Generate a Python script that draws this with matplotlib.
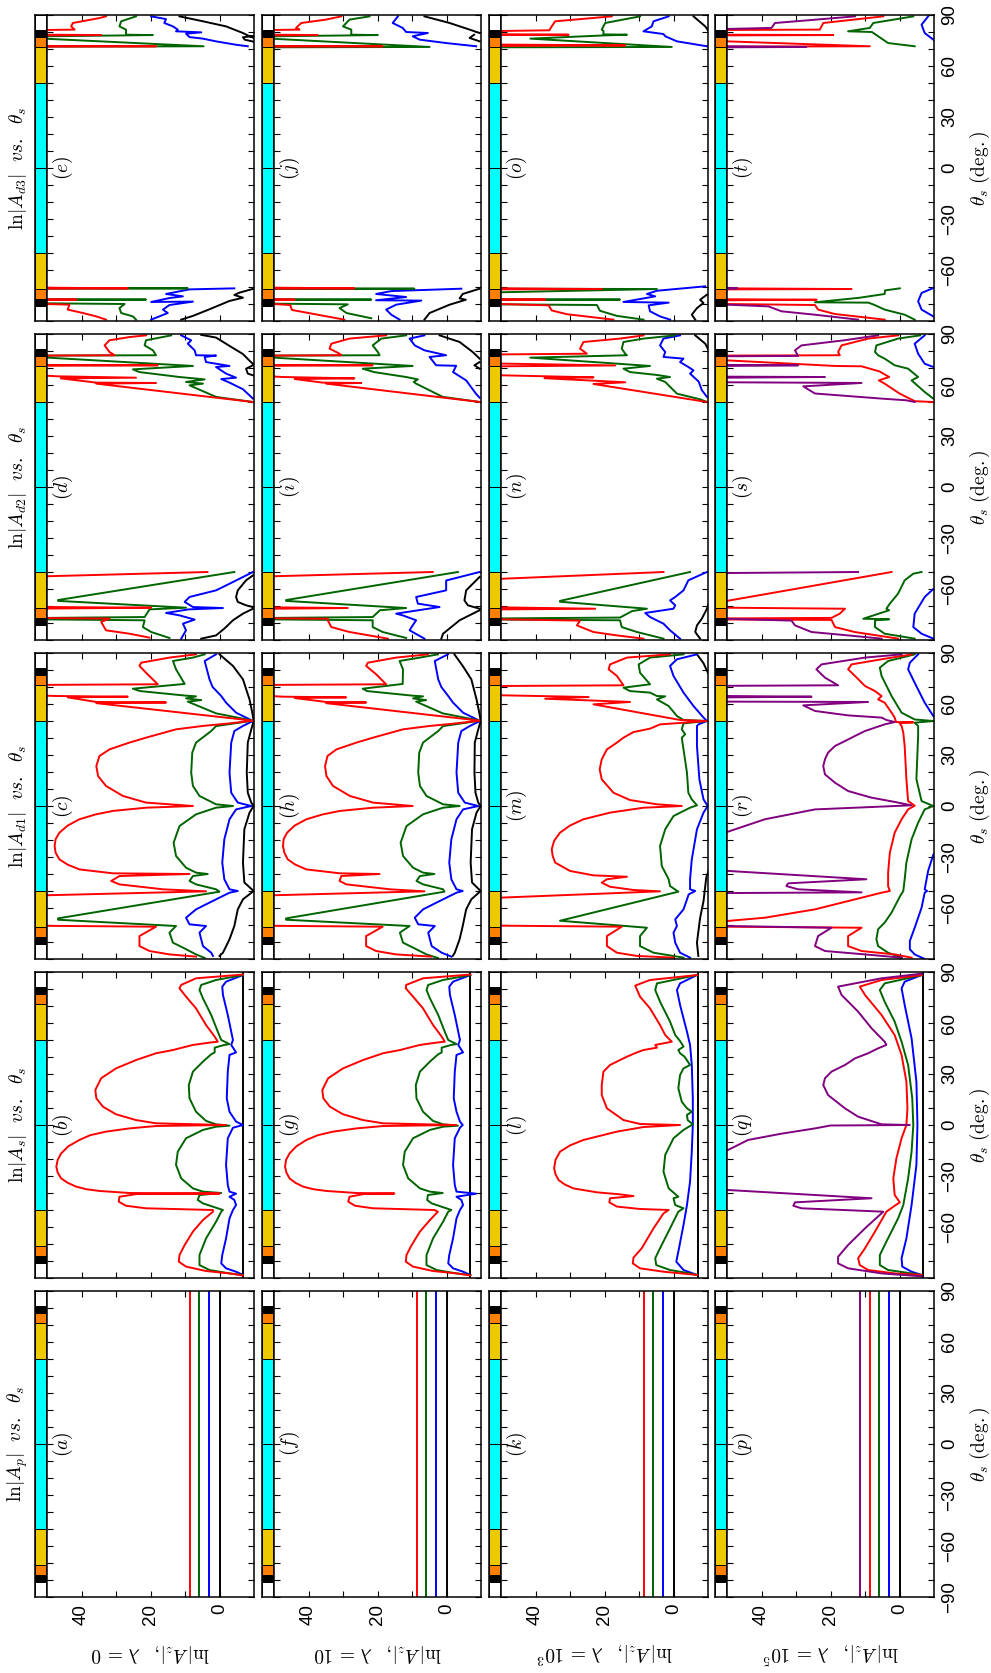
import numpy as np
import matplotlib.pyplot as plt

plt.rcParams['font.family'] = ['Liberation Sans', 'DejaVu Sans']
plt.rcParams['mathtext.fontset'] = 'cm'

RED, GREEN, BLUE, BLACK, PURPLE = '#ff0000', '#006400', '#0000ff', '#000000', '#800080'
G = (np.nan, np.nan)  # break in a curve

# each curve: list of (theta_s in deg, ln|A|); values > 50 run off the top of the panel

# ---- ln|A_p| : flat levels
ap_levels = {BLACK: 0.0, BLUE: 2.9, GREEN: 5.8, RED: 8.5, PURPLE: 11.4}

# ---- ln|A_s|
b_red = [(88.5,-6.8),(86.3,6.8),(82.4,11.1),(80.4,11.6),(75.5,9.7),(68.6,6.8),(58.8,3.9),(52,1.4),(49,0.5),(48.6,2.4),
         (47.1,7.7),(44.1,13.5),(42.2,18.4),(38.2,24.2),(33.3,30),(27.5,34.3),(20.6,36),(15.7,35.7),(10.8,33.8),(6.3,30),
         (2.9,24.2),(1,18.4),(0,-1.9),(-0.6,18.4),(-2,26.1),(-3.9,32.9),(-6,37.5),(-8.8,40.6),(-12.5,43.8),(-16.7,45.9),
         (-20.5,46.9),(-24.5,47.3),(-28,46.9),(-31.4,45.9),(-34,44),(-36.3,41.5),(-37.8,38.5),(-38.8,34.8),(-40,26.1),
         (-40.3,0),(-40.6,24),(-42.2,29),(-45.1,29.2),(-47.5,27.1),(-49,21.3),(-50,1.9),
         (-51,1.9),(-55.9,4.8),(-62.7,7.7),(-70.6,10.1),(-76.5,11.6),(-80.4,11.8),(-83.3,9.7),(-85.9,3.9),(-87.3,-2.9),(-88.5,-6.8)]
b_green = [(88.2,-6.8),(85.3,1),(82.4,5.3),(79.4,5.8),(74.5,4.8),(64.7,2.4),(54.9,0.5),(50,-0.5),(47.6,-2.9),(47.1,-1.4),
           (45.5,1.4),(42.7,1.4),(41.6,2.4),(37.3,4.8),(31.4,7.7),(23.5,8.9),(15.7,8.7),(7.8,6.8),(2.4,3.9),(0.4,1),
           (-0.4,-2.9),(-1,1),(-2.9,4.8),(-7.8,9.7),(-15.7,12.1),(-23.5,12.6),(-31.4,11.1),(-37.3,7.7),(-39.2,4.8),(-40,-0.5),
           (-41.2,5.8),(-44.1,6.3),(-46.1,4.8),(-50,-1),(-51,-0.5),(-56.9,1),(-66.7,3.9),(-76.5,5.8),(-82.4,5.8),(-85.3,2.9),
           (-87.3,-2.9),(-88.2,-6.8)]
b_blue = [(88.2,-6.8),(84.3,-1.9),(81.4,-0.8),(76.5,-1),(64.7,-2.4),(54.9,-3.4),(50,-3.9),(47.1,-3.4),(42.7,-4.8),(41.2,-2.9),
          (31.4,-2.4),(15.7,-2.1),(7.8,-2.9),(2,-4.8),(0,-6.8),(-1.6,-3.9),(-7.8,-2.4),(-23.5,-1.9),(-35.3,-2.4),(-39.2,-2.9),
          (-40.4,-4.8),(-42.2,-2.9),(-44.1,-4.3),(-47.1,-4.8),(-50,-3.9),(-54.9,-2.9),(-66.7,-1.9),(-76.5,-0.8),(-81.4,-0.5),
          (-84.3,-1.9),(-86.3,-4.8),(-88.2,-6.8)]
b_black = [(90,-6.9),(-90,-6.9)]

g_red = [(88.5,-6.9),(86.3,6.8),(82.4,11.7),(80.4,11.8),(75.5,9.7),(68.6,6.8),(58.8,3.9),(52,1.4),(49,0.5),(48.6,2.4),
         (47.1,7.7),(44.1,13.5),(42.2,18.4),(38.2,24.2),(33.3,30),(27.5,34.3),(20.6,36),(15.7,35.7),(10.8,33.8),(6.3,30),
         (2.9,24.2),(1,18.4),(0,-2.8),(-0.6,18.4),(-2,26.1),(-3.9,32.9),(-6,37.3),(-8.8,40.6),(-12.5,43.5),(-16.7,45.5),
         (-20.5,46.5),(-24.5,46.8),(-28,46.4),(-31.4,45.5),(-34,43.8),(-36.3,41.5),(-37.8,38.5),(-38.8,34.8),(-40,26.1),
         (-40.3,15.1),(-40.6,24),(-42.2,28.1),(-45.1,28.5),(-47.5,26.5),(-49,21.3),
         (-50,3.5),(-51,2.5),(-55.9,4.8),(-62.7,7.7),(-70.6,10.1),(-76.5,11.6),(-80.4,11.8),(-83.3,9.7),(-85.9,3.9),
         (-87.3,-2.9),(-88.5,-6.9)]
g_green = [(88.2,-6.9),(85.3,1),(82.4,5.3),(79.4,5.8),(74.5,4.8),(64.7,2.4),(54.9,0.5),(50,-0.5),(47.6,-2.9),(47.1,-1.4),
           (45.5,1.4),(42.7,1.4),(41.6,2.4),(37.3,4.8),(31.4,7.7),(23.5,8.9),(15.7,8.7),(7.8,6.8),(2.4,3.9),(0.4,1),
           (-0.4,-3.3),(-1,1),(-2.9,4.8),(-7.8,9.7),(-15.7,12.1),(-23.5,12.6),(-31.4,11.1),(-37.3,7.7),(-39.2,4.8),(-40,1.1),
           (-41.2,5.4),(-44.1,5.6),(-46.1,4.3),(-50,-1.4),(-51,-0.5),(-56.9,1),(-66.7,3.9),(-76.5,5.8),(-82.4,5.8),(-85.3,2.9),
           (-87.3,-2.9),(-88.2,-6.9)]
g_blue = [(88.2,-6.9),(84.3,-1.9),(81.4,-0.8),(76.5,-1),(64.7,-2.4),(54.9,-3.4),(50,-3.9),(47.1,-3.4),(42.7,-4.8),(41.2,-2.9),
          (31.4,-2.4),(15.7,-2.1),(7.8,-2.9),(2,-3.9),(0,-4.7),(-1.6,-3.9),(-7.8,-2.4),(-23.5,-1.9),(-35.3,-2.4),(-39.2,-2.9),
          (-40.4,-8.6),(-42.2,-2.9),(-44.1,-4.3),(-47.1,-4.8),(-50,-3.9),(-54.9,-2.9),(-66.7,-1.9),(-76.5,-0.8),(-81.4,-0.5),
          (-84.3,-1.9),(-86.3,-4.8),(-88.2,-6.9)]
g_black = [(90,-6.9),(-90,-6.9)]

l_red = [(88.2,-6.8),(85.3,6.8),(82,11.1),(75.5,9.7),(68.6,6.8),(58.8,3.9),(52.9,2.4),(49,0.5),(47.1,5.3),(45.5,4.8),
         (44.1,8.7),(42.7,10.6),(40.2,13.5),(37.3,16.4),(35.3,18.4),(31.4,20.3),(23.5,20.8),(17.6,20.8),(9.8,19.3),(2.9,14.5),
         (0.6,9.7),(0,-1.9),(-1.2,8.7),(-3.9,16.4),(-8.8,26.1),(-12,30),(-15.7,32.9),(-20.5,34.2),(-25.5,34.6),(-29,34.2),
         (-32.4,33.3),(-35,31.5),(-37.3,29),(-39.6,22.2),
         (-40.8,15.5),(-41.8,11.6),(-43.1,18.4),(-45.5,18.6),(-48,16.4),(-49.4,9.7),(-50,1.4),(-52,2.9),(-60.8,5.8),
         (-72.5,9.2),(-78,11.6),(-81.4,11.8),(-84.3,9.7),(-86.3,2.9),(-88.2,-6.8)]
l_green = [(88.2,-6.8),(83.3,4.8),(79.4,5.3),(72.5,3.9),(60.8,1),(52.9,-0.5),(49.4,-1.9),(46.1,-2.9),(44.1,-1.4),(42.2,-1.9),
           (40.2,-3.2),(35.3,-4.8),(33.3,-2.9),(29.4,-1.9),(21.6,-1.4),(13.7,-2.4),(9.8,-3.9),(7.8,-5.3),(5.9,-3.9),(2.9,-4.1),
           (0.4,-5.6),(-2.9,-2.9),(-7.8,0),(-17.6,2.4),(-27.5,2.9),(-37.3,1.4),(-42.2,-1.4),(-43.1,0),(-47.1,-0.5),(-49,-2.9),
           (-51,-1.4),(-60.8,1),(-72.5,3.9),(-78.4,5.3),(-82.4,5),(-85.3,1),(-87.3,-4.8),(-88.2,-6.8)]
l_blue = [(88.2,-6.8),(83.3,-1.9),(79.4,-1),(70.6,-1.9),(54.9,-3.9),(47.1,-4.8),(35.3,-5.3),(15.7,-5.6),(0,-5.6),(-15.7,-5.3),
          (-33.3,-4.8),(-47.1,-3.9),(-58.8,-2.9),(-74.5,-1.4),(-80.4,-0.8),(-85.3,-2.9),(-88.2,-6.8)]
l_black = [(90,-7.2),(-90,-7.2)]

q_purple = [(89,-6.4),(86.3,5.2),(81.4,17.8),(76.5,16.8),(66.7,12),(56.9,8.1),(49,4.3),(47.1,3.8),(45.1,6.2),(42.2,9.1),
            (39.2,12.9),(35.3,15.8),(31.4,19.7),(27.5,21.6),(23.5,22.1),(17.6,20.7),(9.8,15.8),(4.9,12),(0.4,5.2),(0,-3),
            (-0.3,20),(-2,24.5),(-5.1,34.2),(-8.8,43.9),(-14.7,49.7),(-16,55),(-37.5,55),(-38.2,50),(-43.1,8.1),(-45.5,30.3),
            (-47.5,30.8),(-49,28.4),(-50.6,9.1),(-51,4.7),(-60.8,10),(-70.6,14.9),(-77.5,17.8),(-81.4,17.8),(-84.3,14.9),
            (-87.3,5.2),(-89,-6.4)]
q_red = [(88.2,-6.4),(85.3,5.2),(81.4,11.5),(76.5,10),(64.7,5.2),(52.9,1.4),(41.2,-0.6),(25.5,-2),(9.8,-2.3),(0,-2),
         (-7.8,-0.6),(-19.6,0.9),(-31.4,1.8),(-41.2,1.4),(-45.5,-0.1),(-47.5,1.4),(-51,3.8),(-62.7,7.1),(-72.5,10),
         (-78.4,12),(-82.4,11.5),(-85.3,9.1),(-87.3,1.4),(-88.2,-6.4)]
q_green = [(88.2,-6.4),(83.3,4.3),(79.4,5.7),(72.5,4.3),(60.8,1.4),(49,-0.6),(35.3,-2.5),(15.7,-3.7),(0,-4),(-15.7,-3.5),
           (-31.4,-2.5),(-47.1,-1.1),(-54.9,0.4),(-68.6,3.8),(-76.5,5.7),(-82.4,5.7),(-85.3,3.3),(-87.3,-3.5),(-88.2,-6.4)]
q_blue = [(88.2,-6.4),(84.3,-1.5),(80.4,-0.6),(70.6,-1.5),(51,-3.5),(25.5,-4.9),(0,-5.2),(-23.5,-4.9),(-47.1,-3.5),
          (-66.7,-2),(-78.4,-0.6),(-83.3,-0.8),(-86.3,-3.5),(-88.2,-6.4)]
q_black = [(90,-6.9),(-90,-6.9)]

# ---- ln|A_d1|
c_red = [(89.2,6.8),(87.3,14.5),(84.3,22.7),(82.4,23.2),(78.4,21.3),(71.6,17.9),(71.2,55),(65.2,55),(64.7,47.3),(64.3,26.6),
         (63.9,44),(61.2,35.7),(60.9,15.5),(60.5,35.7),(50.2,-9.7),(48.6,-2.9),(47.1,4.8),(45.1,12.6),(40.2,21.3),(37.3,26.1),
         (33.3,31.9),(29.4,34.8),(23.5,35.7),(17.6,35.2),(11.8,32.9),(5.9,28),(2,21.3),(0,7.7),(-1,21.3),(-2.9,30.9),
         (-5,36),(-7.8,40.6),(-11.5,44),(-15.7,46.4),(-19.5,47.5),(-23.5,47.8),(-27.5,47.5),(-31.4,46.4),(-34.5,44),
         (-37.3,40.6),(-39.6,30.9),(-40,8.7),(-41.2,29),(-44.1,31.4),
         (-46.1,29),(-49,16.4),(-50.2,3.9),(-52.5,50),(-53,55),(-70.4,55),(-71,18.4),(-76.5,23.2),(-82.4,23.2),(-85.3,20.3),
         (-87.3,14.5),(-88.6,6.8)]
c_green = [(89.2,4.3),(87.3,7.7),(85.3,13.5),(80.4,12.6),(71.8,10.1),(69,25.1),(67.6,23),(64.9,9.7),(64.5,6.8),(63.3,9.7),
           (62.3,5.3),(61.4,9.2),(54.5,1),(50.2,-9.7),(47,1),(44.1,2.4),(37.3,6.8),(31.4,7.9),(19.6,8.2),(11.8,7.7),(5.9,5.8),
           (1,1),(0,-3.9),(-1,1),(-4.9,6.8),(-11.8,11.6),(-21.6,13.3),(-29.4,12.6),(-36.3,9.7),(-39.2,6.8),(-40,3.4),
           (-41.2,7.7),(-44.1,8.7),(-46.1,6.8),(-49,1),(-50.4,0),(-66.1,46.8),(-66.9,46.8),(-70.6,12.6),(-74.5,14.5),
           (-80.4,13.5),(-83.3,10.6),(-87.3,6.8),(-89.4,4.3)]
c_blue = [(89.2,1),(85.3,4.3),(74.5,2.9),(70,2),(64.7,-0.5),(60.8,-1.9),(54.9,-4.8),(52,-7.7),(50,-9.7),(47.1,-6.8),
          (44.1,-4.3),(37.3,-3.4),(19.6,-2.9),(7.8,-3.4),(2,-5.3),(0,-9.2),(-2,-4.8),(-7.8,-2.9),(-19.6,-1.4),(-33.3,-0.8),
          (-43.1,-1.4),(-49,-2.9),(-50,-5.3),(-51,-2.9),(-54.9,1),(-60.8,6.8),(-65.7,9.7),(-69.6,8.7),(-70.6,3.9),(-74.5,5.8),
          (-82.4,4.8),(-86.3,2.4),(-88.2,1.9)]
c_black = [(89.2,0),(82.4,-3.9),(74.5,-6.8),(62.7,-8.7),(54.9,-9.5),(50,-9.9),(45,-9.2),(37.3,-8.2),(19.6,-7.9),(7.8,-8.2),
           (2,-9.2),(0,-9.9),(-3.9,-8.7),(-13.7,-7.2),(-33.3,-6.8),(-45,-7.2),(-50,-9.9),(-54.9,-6.8),(-60.8,-5.3),
           (-70.6,-4.3),(-78.4,-2.9),(-86.3,-1),(-88.2,0)]

h_red = [(89.2,5.4),(87.3,14.6),(84.3,22.8),(82.4,23.3),(77.5,20.4),(71.6,17.5),(71.2,55),(65.2,55),(64.3,47.4),(63.9,29.1),
         (63.5,44),(61.2,34.9),(60.9,23.3),(60.5,34.9),(50.2,-9.7),(48.6,-2.8),(47.1,4.8),(45.1,12.6),(40.2,21.3),(37.3,26.1),
         (33.3,31.9),(29.4,34.5),(23.5,35.2),(17.6,34.8),(11.8,32.9),(5.9,28),(2,21.3),(0,9.8),(-1,21.3),(-2.9,30.9),
         (-5,36),(-7.8,40.6),(-11.5,44),(-15.7,46.2),(-19.5,47.2),(-23.5,47.4),(-27.5,47),(-31.4,46),(-34.5,43.8),
         (-37.3,40.6),(-39.6,30.9),(-40,19.4),(-41.2,30.5),(-44.1,31),
         (-46.1,29),(-49,16.4),(-50.2,6.4),(-52.5,50),(-53,55),(-70.4,55),(-71,18.5),(-76.5,23.3),(-82.4,23.3),(-85.3,20.4),
         (-87.3,14.6),(-88.6,4.4)]
h_green = [(89.2,2.5),(87.3,7.7),(85.3,13.6),(80.4,12.6),(71.8,12.7),(69,24.3),(67.6,23),(64.9,9.8),(64.5,6.8),(63.3,9.7),
           (62.3,5.9),(61.4,8.8),(54.5,1.1),(50.2,-9.7),(47,1),(44.1,2.4),(37.3,6.8),(31.4,7.9),(19.6,8.2),(11.8,7.7),(5.9,5.8),
           (1,1),(0,-3.8),(-1,1),(-4.9,6.8),(-11.8,11.6),(-21.6,13.3),(-29.4,12.6),(-36.3,9.7),(-39.2,6.8),(-40,3.5),
           (-41.2,7.7),(-44.1,8.7),(-46.1,6.8),(-49,1),(-50.4,0.6),(-66.1,46.5),(-66.9,46.5),(-70.6,10.7),(-74.5,13.5),
           (-80.4,12.6),(-83.3,9.7),(-87.3,5.8),(-89.4,2.5)]
h_blue = [(89.2,-0.4),(85.3,3.4),(74.5,2.4),(70,1.5),(64.7,-0.5),(60.8,-1.9),(54.9,-4.8),(52,-7.7),(50,-9.7),(47.1,-6.8),
          (44.1,-4.3),(37.3,-3.4),(19.6,-2.9),(7.8,-3.4),(2,-5.3),(0,-9.2),(-2,-4.8),(-7.8,-2.9),(-19.6,-1.4),(-33.3,-0.8),
          (-43.1,-1.4),(-49,-2.9),(-50,-4.7),(-51,-2.9),(-54.9,1),(-60.8,6.8),(-65.7,9.2),(-69.6,8.2),(-70.6,3.4),(-74.5,5.3),
          (-82.4,4.3),(-86.3,1.4),(-88.6,-1.4)]
h_black = [(89.2,-2.3),(82.4,-4.7),(74.5,-7.2),(62.7,-8.7),(54.9,-9.5),(50,-9.9),(45,-9.2),(37.3,-8.2),(19.6,-8.1),
           (7.8,-8.4),(2,-9.2),(0,-9.9),(-3.9,-8.7),(-13.7,-7.4),(-33.3,-7),(-45,-7.4),(-50,-9.9),(-54.9,-7.2),(-60.8,-5.7),
           (-70.6,-4.7),(-78.4,-3.8),(-86.3,-2.4),(-88.2,-1.8)]

m_red = [(89.2,1),(87.3,13.5),(83.3,18.4),(80.4,18.8),(76.5,16.4),(71,14.5),(70.6,50),(70.3,55),(65.5,55),(65.1,49.3),
         (64.1,24.6),(63.1,37.2),(61.2,12.6),(59.8,23.2),(50.6,-1.9),(50,-9.7),(48,3.9),(45.5,6.8),(43.5,11.6),(40.2,14.5),
         (37.3,16.4),(33.3,19.3),(27.5,20.8),(21.6,21.4),(15.7,20.8),(7.8,17.4),(3.5,12.6),(1,4.8),(0,-2.4),(-1,8.7),
         (-3.9,18.4),(-7.8,26.1),(-11.5,30),(-15.7,32.9),(-20.5,34.6),(-25.5,35.3),(-29.5,35),(-33.3,34.3),(-38.2,30),
         (-40.8,23.2),(-41.6,13.5),(-43.1,19.3),
         (-45.1,20.8),(-47.5,18.4),(-49.4,11.6),(-50.2,3.9),(-53.9,50),(-54.3,55),(-70.3,55),(-71,15),(-76.5,19.3),
         (-82.4,19.3),(-86.3,16.4),(-88.2,10.6),(-89.2,0)]
m_green = [(89.2,-2.9),(87.3,6.8),(83.3,10.1),(78.4,9.7),(71.6,6.8),(69.6,14.5),(67.6,12.6),(66.7,6.8),(64.7,4.8),(64.5,2.4),
           (62.7,4.8),(58.8,1.4),(52.9,-1),(50.6,-2.9),(50,-9.7),(48.6,-2.9),(45.1,-2.4),(42.2,-3.4),(40.2,-2.4),(33.3,-2.9),
           (19.6,-3.9),(7.8,-4.3),(3.9,-5.3),(0.4,-6.8),(-1,-4.8),(-5.9,0),(-13.7,2.4),(-23.5,3.9),(-35.3,3.4),(-43.1,1.4),
           (-47.1,1),(-50.4,-1.4),(-67.5,32.9),(-71.6,7.7),(-76.5,9.7),(-82.4,9.7),(-86.3,5.8),(-89.2,-2.9)]
m_blue = [(89.2,-6.8),(86.3,-1),(82.4,1),(76.5,0),(66.7,-2.9),(58.8,-5.8),(52,-8.7),(50,-9.7),(48,-7.2),(47,-6.8),
          (35.3,-6.8),(15.7,-7.5),(3.9,-8.7),(0,-9.9),(-3.9,-8.7),(-13.7,-6.8),(-31.4,-5.3),(-43.1,-4.8),(-49,-4.8),
          (-50,-6.3),(-52,-4.4),(-60.8,-2.9),(-66.7,-0.5),(-70.6,-1),(-74.5,0),(-80.4,-0.5),(-86.3,-1.9),(-89.2,-4.8)]
m_black = [(89.2,-6.8),(84,-8.7),(76,-10.5), G, (-36,-10.5),(-42,-9.5),(-56,-8.7),(-66,-7.7),(-80.4,-6.8),(-88.2,-7.2)]

r_purple = [(89.2,-0.6),(87.3,10),(83.3,22.6),(80.4,24.1),(75.5,21.6),(71,17.8),(70.7,49.7),(70.3,55),(65,55),(64.7,49.7),
            (64.3,25.5),(63.9,49.7),(63.5,55),(62,55),(61.4,49.7),(61.2,9.1),(59.2,27.9),(55.9,24.5),(53.3,14.9),(52,5.2),
            (50.6,3.8),(49.4,1.4),(48,4.3),(46.1,7.1),(44.1,10),(41.2,12.9),(38.2,15.8),(35.3,18.7),(31.4,20.7),(27.5,21.6),
            (23.5,22.1),(18.6,21.6),(13.7,18.7),(8.8,14.9),(4.9,8.1),(2.4,1.4),(0.4,-3.5),(-2,24.5),(-7.8,39),(-15.1,49.7),
            (-16,55),(-37.5,55),(-38.2,49.7),(-43.1,9.6),(-45.5,32.3),(-47.1,32.8),(-49,29.4),(-50.8,11),(-51.2,49.7),
            (-51.6,55),(-70,55),(-70.6,49.7),(-71.6,19.7),(-76.5,23.6),(-82.4,24.5),(-85.3,21.6),(-87.3,10),(-89.2,-0.6)]
r_red = [(89.2,-3.5),(86.3,5.2),(83.3,13.9),(80.4,14.9),(76.5,12.9),(70.6,10),(67.6,7.1),(64.7,5.2),(62.7,6.2),(60.8,4.3),
         (54.9,2.3),(52,1.4),(49.4,1),(49.2,-4),(48.8,0),(47.1,-0.6),(43.1,-1.1),(35.3,-1.5),(15.7,-2),(2.9,-2.5),
         (0.2,-4.4),(-2,-2.5),(-7.8,-0.6),(-15.7,1.4),(-27.5,2.8),(-39.2,3.3),(-47.1,3.3),(-50,2.8),(-51,5.2),(-60.8,24.5),
         (-65.7,39),(-67.6,49.7),(-68,55),(-70.8,55),(-71,49.7),(-71.6,11),(-76.5,14.9),(-82.4,14.9),(-85.3,11),
         (-87.3,1.4),(-89.2,-3.5)]
r_green = [(89.2,-4.4),(85.3,3.3),(81.4,5.7),(76.5,5.2),(64.7,2.3),(54.9,-0.6),(50.9,-4.4),(50,-9.8),(49,-4.4),(47.1,-5.4),
           (41.2,-5.4),(15.7,-4.9),(2.9,-6.4),(0,-9.8),(-2,-7.3),(-9.8,-5.4),(-19.6,-3.5),(-33.3,-2),(-43.1,-1.5),(-50,-1.1),
           (-52.9,-0.2),(-62.7,2.3),(-68.6,4.3),(-72.5,6.2),(-78.4,6.7),(-82.4,6.2),(-86.3,3.3),(-89.2,-0.6)]
r_blue = [(89.2,-5.4),(84.3,-3),(80.4,-2.5),(72.5,-4.4),(60.8,-7.3),(52.9,-9.8),(51,-11), G, (-27,-11),(-28.6,-9.8),
          (-38.2,-8.3),(-49,-7.3),(-50,-8),(-51,-7.3),(-59.8,-6.4),(-71.6,-4.4),(-79.4,-3),(-84.3,-3),(-87.3,-4.4),(-90,-7.3)]

# ---- ln|A_d2|
d_red = [(89.2,21.3),(88.2,26.1),(86.3,31.9),(83.3,33.3),(79.4,31.9),(77.5,30.4),(77.3,50),(77,55),(72,55),(71.8,50),
         (71.6,17.9),(71.3,50),(71,55),(66,55),(65.1,46.9),(64.3,24.2),(63.9,46),(61.4,35.7),(61.2,18.4),(60.8,35.7),
         (50,-9.7), G, (-50,3.5),(-52.5,50),(-53,55),(-70.3,55),(-70.6,50),(-71,19.8),(-71.5,50),(-72,55),(-76.8,55),
         (-77.1,50),(-77.4,31.9),(-79.4,34.3),(-84.3,32.9),(-86.3,26.1),(-88.6,20.3)]
d_green = [(89.2,14),(86.3,21.3),(83.3,21.7),(80.4,19.3),(77.5,18.4),(77.3,50),(77,55),(76.5,55),(76.1,49.8),(71.2,7.7),
           (69.2,25.1),(67.6,23.2),(64.7,11.6),(63.3,4.3),(61.8,9.7),(60.8,4.8),(59.8,8.7),(53,1),(50,-9.7), G,
           (-50,-4.3),(-66.5,46.8),(-67,46.8),(-71,9.7),(-72,20.3),(-76.5,21.7),(-77,50),(-77.5,55),(-77.8,55),(-78.4,21.7),
           (-82.4,22.2),(-85.3,19.8),(-88.8,14.5)]
d_blue = [(89.2,11.1),(86.3,8.2),(84.3,9.2),(80.4,7.2),(77.5,6.8),(77.3,1),(76.5,4.3),(73.5,3.9),(71.2,-2.9),(70.6,1),
          (66.7,-1.9),(64.3,-4.8),(63.5,-0.5),(61.4,-2.9),(57.5,-6.8),(52,-9.7), G, (-50,-9.7),(-56.9,-2.9),(-60.8,1),
          (-64.7,8.7),(-67.6,10.1),(-70.6,7.7),(-71.2,-1),(-72,9),(-74.1,15.5),(-75.5,11.6),(-78,7.2),(-80.4,10.6),
          (-84.3,9.7),(-89.2,11.1)]
d_black = [(89.5,5.3),(87.9,1),(83,-2.9),(78.2,-6.8),(74.3,-8.7),(72.4,-9.7), G, (71.6,-9.7),(69.6,-7.7),(66.7,-8.2),
           (65.7,-9.7), G, (-52,-9.7),(-54.9,-7.7),(-60.8,-5.3),(-64.7,-4.8),(-67.6,-5.3),(-69.6,-7.7),(-70.6,-9.7), G,
           (-71.6,-9.7),(-74.5,-6.8),(-78.4,-3.9),(-83.3,-1.4),(-87.3,1),(-89.2,5.3)]

i_red = [(89.2,17.5),(87.3,28.1),(84.3,33.4),(81.4,33.9),(78.4,31),(77.5,30.5),(77.3,50),(77,55),(72,55),(71.8,50),
         (71.6,21.4),(71.3,50),(71,55),(65.5,55),(64.7,47.4),(63.9,26.7),(63.5,44),(61.4,35.9),(61.2,24.7),(60.8,34.9),
         (50,-9.7), G, (-50,4),(-52.5,50),(-53,55),(-70.3,55),(-70.8,50),(-71.2,28.6),(-71.6,50),(-72,55),(-76.8,55),
         (-77.2,50),(-77.5,34.4),(-78.4,34.4),(-82.4,33.4),(-85.3,28.1),(-89.2,17)]
i_green = [(89.2,11.7),(87.3,18.9),(83.3,21.4),(79.4,19.9),(77.5,19.4),(77.3,50),(77,55),(76.5,55),(76.1,50),(71.2,9.8),
           (69.6,24.3),(67.6,21),(64.7,11.7),(63.3,8.3),(61.8,9.5),(60.8,8.8),(53,1.1),(50,-9.7), G, (-50,-3.3),
           (-66.5,46.5),(-67,46.5),(-71.2,11.7),(-72.5,19.3),(-76.5,21.4),(-77,50),(-77.3,55),(-77.8,55),(-78.4,21.4),
           (-82.4,21.4),(-85.3,18.5),(-88.8,11.7)]
i_blue = [(89.2,6.4),(87.3,10.7),(83.3,9.2),(80.4,6.4),(77.5,0.1),(76.5,4.9),(71.6,3),(71.3,-2.8),(67.6,-1.9),(62.7,-5.7),
          (55,-8.5),(52.5,-9.6), G, (-50,-9.6),(-55,0.1),(-60.8,0.1),(-64.7,8.8),(-68.6,8.3),(-70.6,2),(-74.5,14.6),
          (-75.5,12.7),(-78.4,8.8),(-81.4,9.8),(-84.3,10.7),(-89.2,6.4)]
i_black = [(89.2,2),(85.3,-3.8),(79.4,-7.6),(75.5,-9.6), G, (73.5,-9.6),(71.6,-8.1),(69.6,-9.6), G, (-52.9,-9.6),
           (-60.8,-5.7),(-66.7,-5.2),(-69.6,-6.2),(-71.6,-9.6), G, (-72.5,-9.6),(-78.4,-3.8),(-86.3,1),(-89.2,1.5)]

n_red = [(89.2,8.7),(87.3,15.5),(85.3,26.1),(81.4,27.1),(78.4,25.1),(78,50),(77.5,55),(73,55),(72.6,50),(71.5,16.9),
         (71,50),(70.5,55),(66.5,55),(65.7,49.8),(64.5,23.2),(64,37.4),(61.6,14),(60.6,23.2),(50,-9.7), G, (-50,2.9),
         (-54,50),(-54.5,55),(-70.3,55),(-70.8,50),(-71.6,22.7),(-72,50),(-72.5,55),(-77.3,55),(-77.8,50),(-78.6,27.1),
         (-81.4,28),(-85.3,23.2),(-87.3,16.4),(-89.2,8.7)]
n_green = [(89.2,-0.5),(87.3,8.7),(85.3,14.5),(81.4,15),(78.4,14),(77.5,13.5),(76.1,41.5),(71.2,6.8),(69.6,14.5),(67.6,12.6),
           (65.9,4.8),(64.7,1),(63.7,4.8),(61.8,2.4),(54.9,-1),(51.6,-7.7),(50,-9.7), G, (-50,-4.8),(-67,32.9),(-67.5,32.9),
           (-71.6,7.7),(-73,12),(-76.8,15.5),(-77.3,50),(-77.6,55),(-77.9,55),(-78.4,15.5),(-82.4,15),(-85.3,10.6),(-89.2,2.9)]
n_blue = [(89.2,-1.9),(87.3,2.9),(83.3,3.9),(79.4,2.4),(76.5,2.9),(75.5,-2.9),(73.5,-1.9),(70.6,-4.3),(68.6,-5.8),
          (66.7,-4.8),(62,-7.3),(57,-8.2),(53,-9.7), G, (-50,-9.7),(-54.9,-4.3),(-60.8,-2.9),(-64.7,-0.5),(-66.7,1),
          (-69.6,-0.5),(-71.6,0),(-74.1,8.2),(-76.5,6.8),(-80.4,2.9),(-84.3,1),(-89.2,-1.9)]
n_black = [(89.2,-6.3),(84.3,-9.2),(80.4,-10.2), G, (-68.6,-10.2),(-71.6,-9.7),(-77.5,-8.2),(-81.4,-6.8),(-85.3,-6.3),
           (-89.2,-7.7)]

s_purple = [(89.2,6.2),(86.3,16),(83.3,28.4),(80.4,30.3),(77.1,29.4),(76.9,50),(76.5,55),(72,55),(71.8,50),(71.6,29.4),
            (71.2,50),(70.8,55),(65.5,55),(64.9,50),(64.7,21.6),(64.3,50),(64,55),(62,55),(61.6,50),(61.2,11),(59.2,27.9),
            (55,24.5),(52,5.2),(51,-2),(50,-4.4), G, (-50,12),(-50.6,50),(-51,55),(-77,55),(-77.5,50),(-78.6,31.3),
            (-81.4,30.3),(-85.3,25.5),(-87.3,14.9),(-89.2,5.2)]
s_red = [(89.2,0.4),(87.3,9.1),(83.3,16.8),(79.4,17.8),(77.5,17.3),(77.3,50),(77,55),(75,55),(74.5,50),(71.2,18.7),
         (71,11),(68,5.8),(64.7,3),(62.7,6),(60.8,4.3),(55,0),(50.5,-4.4),(50,-9.5), G, (-50,2.3),(-67,50),(-67.5,55),
         (-70.5,55),(-71,50),(-71.6,15.8),(-74.5,17.3),(-77,19.7),(-77.3,50),(-77.6,55),(-77.9,55),(-78.2,19.7),
         (-82.4,18.7),(-85.3,13),(-89.2,0.4)]
s_green = [(89.2,-6),(87.3,0.4),(83.3,6.7),(79.4,7.1),(77.5,6.2),(75.5,4.3),(71.6,1.4),(69.6,-2.5),(64.7,-5.4),(62.7,-3.5),
           (55.9,-7.3),(52,-9.8), G, (-50,-6.4),(-51,-4),(-54.9,-1.5),(-62.7,0.4),(-68.6,2.8),(-71.6,3.8),(-72.5,3),
           (-77.5,10.5),(-77.8,3),(-78.4,7.1),(-82.4,7.1),(-86.3,4.3),(-89.2,-4.4)]
s_blue = [(89.2,-7.3),(84.3,-4.4),(78.4,-5.4),(72.5,-7.3),(70.6,-9.8), G, (-60,-9.8),(-64.7,-7.3),(-74.5,-4.4),
          (-82.4,-4),(-86.3,-6.4),(-89.2,-9.8)]

# ---- ln|A_d3|
e_red = [(89.2,32.9),(88.2,34.8),(85.3,42.5),(83.3,43),(81.4,42),(81.2,50),(81,55),(78.7,55),(78.4,50),(78.2,34.3),
         (78,50),(77.8,55),(72,55),(71.8,50),(71.6,18.4),(71.4,50),(71.2,55),(-70.2,55),(-70.4,50),(-70.8,26.6),(-71,50),
         (-71.2,55),(-77,55),(-77.2,50),(-77.4,41.5),(-77.6,50),(-77.8,55),(-79.8,55),(-80,50),(-80.4,43.5),(-83.3,44),
         (-85.3,39.6),(-87.3,35.7),(-89.2,32.9)]
e_green = [(89.2,24.2),(86.3,28.5),(83.3,29),(81.4,27.1),(78.4,27.1),(78.2,19.3),(78,27),(77.5,50),(77.2,55),(76.3,55),
           (76,50),(71.6,4.6),(71.4,50),(71.2,55),(-70.4,55),(-70.6,50),(-70.8,9.2),(-71,50),(-71.2,55),(-77,55),(-77.2,50),
           (-77.4,21.3),(-77.6,50),(-77.8,55),(-79.2,55),(-79.6,50),(-80,27.5),(-82.4,29),(-85.3,28.5),(-87.3,25.1),
           (-89.2,24.2)]
e_blue = [(89.2,19.8),(87.6,15.5),(85.3,16),(83.3,13.5),(81.4,12.1),(80.4,12.6),(79.8,5.3),(79,9.7),(77,8.7),(76.1,4.8),
          (74.5,1),(72.5,-4.8),(71.6,-8.2), G, (-70.8,-4.3),(-71.4,8.7),(-74.1,15.5),(-75.5,10.6),(-76.5,14.5),
          (-78.8,19.8),(-78.6,7.7),(-80.6,14.5),(-83.3,16.4),(-85.3,15),(-89.2,19.8)]
e_black = [(89.2,11.6),(86.3,4.8),(83.3,-1.9),(79.4,-6.8),(77.5,-8.7),(76.5,-9.9), G, (77.7,-9.9),(76.9,-6.8),(75.5,-7.3),
           (74.3,-9.9), G, (-71,-9.9),(-73.3,-5.8),(-74.7,-4.3),(-76.3,-6.8),(-78.2,-2.9),(-83.1,2.9),(-87,7.7),(-89.2,11.1)]

j_red = [(89.2,30.5),(87.3,34.9),(85.3,42.1),(82.4,43.6),(81.4,42.6),(81.2,50),(81,55),(78.6,55),(78.4,50),(78.2,37.3),
         (78,50),(77.8,55),(72,55),(71.8,50),(71.6,18.5),(71.4,50),(71.2,55),(-70.2,55),(-70.4,50),(-70.8,26.7),(-71,50),
         (-71.2,55),(-77,55),(-77.2,50),(-77.4,44),(-77.6,50),(-77.8,55),(-79.8,55),(-80,50),(-80.6,45.3),(-83.5,44.8),
         (-86.5,36.8),(-89.2,29.6)]
j_green = [(89.2,22.3),(87.3,28.1),(83.3,30),(81.4,27.6),(78.4,27.6),(78.2,19.9),(78,27.6),(77.5,50),(77.2,55),(76.3,55),
           (76,50),(71.2,4.9),(71,50),(70.8,55),(-70.6,55),(-70.8,50),(-71,9.3),(-71.2,50),(-71.4,55),(-77,55),(-77.2,50),
           (-77.4,21.8),(-77.6,50),(-77.8,55),(-79.4,55),(-79.8,50),(-80.2,28.6),(-82.4,31),(-85.3,29),(-88.4,21.8)]
j_blue = [(89.2,14.1),(85.3,15.6),(82.4,12.7),(80,11.7),(79.4,5.4),(77.5,9.8),(75.5,7.8),(73.5,0.1),(71.6,-8.6), G,
          (-71,-4.3),(-72.4,16),(-74.1,20.4),(-75.9,11.7),(-77.8,20.4),(-78,7.3),(-80.4,14.6),(-83.3,17.5),(-86.3,16),
          (-89.2,13.6)]
j_black = [(89.2,6.4),(85.3,-0.9),(81.4,-6.7),(79.4,-9.6), G, (78.4,-8),(76.5,-6.7),(74.5,-9.6), G, (-71,-9.6),
           (-74.1,-4.7),(-76.7,-3.8),(-77.5,-5.6),(-80.4,-0.9),(-85.3,4.9),(-89.2,6.4)]

o_red = [(89.2,17.9),(86.3,34.3),(83.3,35.3),(81,36),(80.6,50),(80.2,55),(79,55),(78.7,50),(78.4,30.4),(78.2,50),(78,55),
         (72.8,55),(72.6,50),(72.1,14),(71.8,50),(71.5,55),(-70.6,55),(-70.8,50),(-71.2,20.8),(-71.4,50),(-71.6,55),
         (-77,55),(-77.2,50),(-77.4,37.2),(-77.6,50),(-77.8,55),(-79.6,55),(-80,50),(-80.8,36.2),(-83.8,35.3),(-86,30.9),
         (-89.2,17.4)]
o_green = [(89.2,9.7),(85.3,19.8),(81.4,20.8),(80.6,20.3),(78.6,20.3),(78.4,13.5),(78,20),(76.1,41.5),(71.2,0.5),(71,50),
           (70.8,55),(-70.8,55),(-71,50),(-71.2,4.8),(-73.1,50),(-73.5,55),(-76.8,55),(-77.2,50),(-77.4,15.5),(-77.6,50),
           (-77.8,55),(-79.8,55),(-80.2,50),(-80.6,22.2),(-84,21.3),(-87,16.4),(-89.2,8.7)]
o_blue = [(89.2,1.4),(86.3,5.8),(83.3,6.3),(80.4,8.7),(78.8,2.9),(77.5,2.4),(74.5,-1),(71.6,-9.7), G, (-69.6,-9.2),
          (-72.2,4.8),(-74.1,7.7),(-75.5,5.3),(-78.8,14.5),(-79.2,1.4),(-80.8,7.2),(-84.3,6.8),(-87.3,3.9),(-89.2,1)]
o_black = [(89.2,-5.8),(83.3,-9.2),(80.4,-10.2), G, (-74.5,-9.7),(-77.5,-7.7),(-79.4,-8.7),(-82.4,-6.8),(-86.3,-5.3),
           (-89.2,-6.3)]

t_purple = [(89.2,12.9),(86.3,30),(85.3,36.1),(82.4,37.1),(81.8,50),(81.5,55),(72,55),(71.6,50),(71.2,27),(71,50),
            (70.8,55),(-70.4,55),(-70.6,50),(-70.8,47),(-71,50),(-71.2,55),(-80,55),(-80.4,50),(-81.4,38),(-84.3,34.2),
            (-86.3,24.5),(-89.2,12)]
t_red = [(89.2,4.7),(85.3,22.1),(81.4,23.1),(81.2,50),(81,55),(78.6,55),(78.4,50),(78.2,19.2),(78,50),(77.8,55),
         (74.8,55),(74.5,50),(71.6,8.6),(71.4,50),(71.2,55),(-70.6,55),(-70.8,50),(-71.2,13.9),(-71.4,50),(-71.6,55),
         (-77,55),(-77.2,50),(-77.5,24),(-77.8,50),(-78.2,55),(-79.6,55),(-80,50),(-80.6,24.5),(-83.3,23.6),(-85.9,18.7),
         (-89.2,4.3)]
t_green = [(89.2,-4),(85.3,7.6),(82.4,8.6),(80.4,14.9),(80,8),(77.5,6.2),(73.5,3.3),(71.6,-4.4), G, (-70.8,-0.1),(-72,4.2),
           (-74.1,4.3),(-76.3,11.5),(-79,24.5),(-79.2,9),(-80.6,7.2),(-83.3,4.3),(-86.3,-1.5),(-89.2,-4.4)]
t_blue = [(89.2,-8.3),(84.3,-6.4),(79.4,-7.3),(75.5,-9.8), G, (-70.6,-9.8),(-73.5,-6.4),(-78.4,-5.4),(-83.3,-6.4),
          (-87.3,-9.8)]

lambdas = ['0', '10', '10^3', '10^5']
quantities = ['A_p', 'A_s', 'A_{d1}', 'A_{d2}', 'A_{d3}']
letters = ['abcde', 'fghij', 'klmno', 'pqrst']

# coloured strip of angular zones
zone_edges = [-90, -81, -77.2, -71.3, -50, 0, 50, 71.3, 77.2, 81, 90]
zone_colors = ['white', 'black', '#ff8000', '#eec900', 'cyan', 'cyan', '#eec900', '#ff8000', 'black', 'white']

flat = lambda v: [(90, v), (-90, v)]
four = [BLACK, BLUE, GREEN, RED]
panels = {
    'a': [(flat(ap_levels[c]), c) for c in four],
    'f': [(flat(ap_levels[c]), c) for c in four],
    'k': [(flat(ap_levels[c]), c) for c in four],
    'p': [(flat(ap_levels[c]), c) for c in four + [PURPLE]],
    'b': [(b_black, BLACK), (b_blue, BLUE), (b_green, GREEN), (b_red, RED)],
    'g': [(g_black, BLACK), (g_blue, BLUE), (g_green, GREEN), (g_red, RED)],
    'l': [(l_black, BLACK), (l_blue, BLUE), (l_green, GREEN), (l_red, RED)],
    'q': [(q_black, BLACK), (q_blue, BLUE), (q_green, GREEN), (q_red, RED), (q_purple, PURPLE)],
    'c': [(c_black, BLACK), (c_blue, BLUE), (c_green, GREEN), (c_red, RED)],
    'h': [(h_black, BLACK), (h_blue, BLUE), (h_green, GREEN), (h_red, RED)],
    'm': [(m_black, BLACK), (m_blue, BLUE), (m_green, GREEN), (m_red, RED)],
    'r': [(r_blue, BLUE), (r_green, GREEN), (r_red, RED), (r_purple, PURPLE)],
    'd': [(d_black, BLACK), (d_blue, BLUE), (d_green, GREEN), (d_red, RED)],
    'i': [(i_black, BLACK), (i_blue, BLUE), (i_green, GREEN), (i_red, RED)],
    'n': [(n_black, BLACK), (n_blue, BLUE), (n_green, GREEN), (n_red, RED)],
    's': [(s_blue, BLUE), (s_green, GREEN), (s_red, RED), (s_purple, PURPLE)],
    'e': [(e_black, BLACK), (e_blue, BLUE), (e_green, GREEN), (e_red, RED)],
    'j': [(j_black, BLACK), (j_blue, BLUE), (j_green, GREEN), (j_red, RED)],
    'o': [(o_black, BLACK), (o_blue, BLUE), (o_green, GREEN), (o_red, RED)],
    't': [(t_blue, BLUE), (t_green, GREEN), (t_red, RED), (t_purple, PURPLE)],
}

# the original landscape figure is shown turned a quarter turn:
# theta_s runs upward, ln|A| runs leftward
W, H = 991, 1673
fig = plt.figure(figsize=(W / 100, H / 100), dpi=100)
col_left = [35, 262, 489, 715]
row_top = [1291, 972, 653, 334, 15]
bar_w, main_w, pan_h = 12, 207, 306

theta_ticks = list(range(-90, 91, 10))

for i in range(4):
    for k in range(5):
        x0 = col_left[i]
        yb = H - (row_top[k] + pan_h)
        axb = fig.add_axes([x0 / W, yb / H, bar_w / W, pan_h / H])
        for lo, hi, zc in zip(zone_edges[:-1], zone_edges[1:], zone_colors):
            axb.axhspan(lo, hi, facecolor=zc, edgecolor='black', lw=0.7)
        axb.set_xlim(0, 1)
        axb.set_ylim(-90, 90)
        axb.set_xticks([])
        axb.set_yticks([])
        for sp in axb.spines.values():
            sp.set_linewidth(1.1)

        ax = fig.add_axes([(x0 + bar_w) / W, yb / H, main_w / W, pan_h / H])
        letter = letters[i][k]
        for pts, col in panels[letter]:
            arr = np.array(pts, dtype=float)
            ax.plot(arr[:, 1], arr[:, 0], color=col, lw=1.4, solid_joinstyle='round')
        ax.set_xlim(50, -10)
        ax.set_ylim(-90, 90)
        ax.set_xticks([0, 10, 20, 30, 40])
        ax.set_xticklabels(['0', '', '20', '', '40'])
        ax.set_yticks(theta_ticks)
        # only the lowest strip keeps its -90 label, so neighbouring strips do not collide
        ax.set_yticklabels([str(v).replace('-', '\u2212') if (v % 30 == 0 and (v > -90 or k == 0)) else ''
                            for v in theta_ticks])
        ax.tick_params(direction='in', length=4, width=0.8, top=True, bottom=True, left=True, right=True,
                       labelbottom=(k == 0), labelleft=False, labelright=(i == 3), labelsize=13.5, pad=5)
        ax.tick_params(axis='x', labelrotation=90)
        ax.tick_params(axis='y', labelrotation=90)
        if i == 3:
            for t in ax.get_yticklabels():
                t.set_va('center')
        for sp in ax.spines.values():
            sp.set_linewidth(1.1)
        ax.text(45.5, 0, '$(%s)$' % letter, rotation=90, ha='center', va='center', fontsize=14)

for k in range(5):
    yc = (H - (row_top[k] + pan_h / 2)) / H
    fig.text(18 / W, yc, r'$\ln|%s|\ \ vs.\ \ \theta_s$' % quantities[k], rotation=90,
             ha='center', va='center', fontsize=14)
    fig.text(980 / W, yc, r'$\theta_s\ \mathrm{(deg.)}$', rotation=90, ha='center', va='center', fontsize=14)

for i in range(4):
    xc = (col_left[i] + bar_w + main_w / 2) / W
    fig.text(xc, 20 / H, r'$\ln|A_z|,\ \ \lambda\, =\, %s$' % lambdas[i], rotation=180,
             ha='center', va='center', fontsize=14)

fig.savefig('out.png', dpi=100)
